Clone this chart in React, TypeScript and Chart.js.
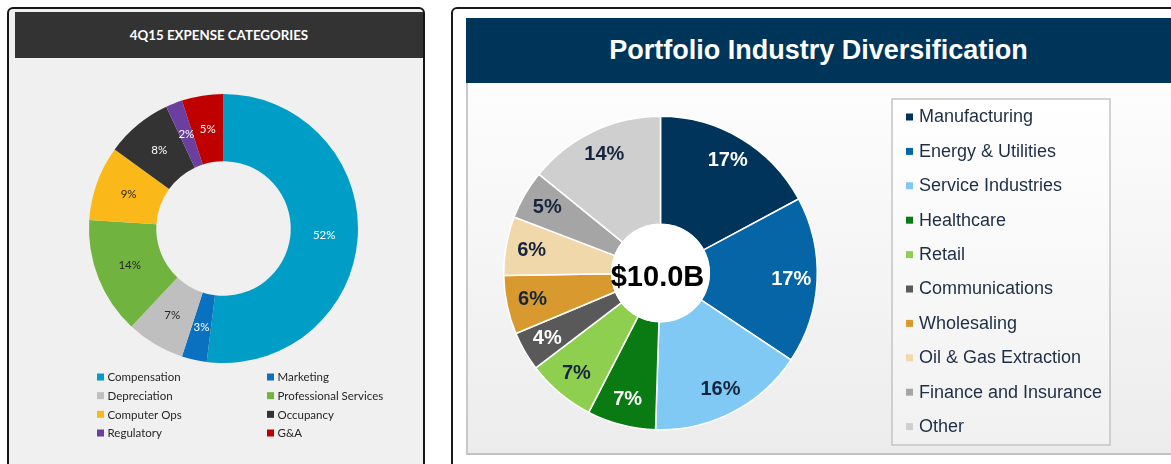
import React, { useEffect, useRef } from "react";
import { Chart, registerables } from "chart.js";
Chart.register(...registerables);

// ---- Left chart data ----
const expenseTitle = "4Q15 EXPENSE CATEGORIES";
const expenseCategories = [
  "Compensation",
  "Marketing",
  "Depreciation",
  "Professional Services",
  "Computer Ops",
  "Occupancy",
  "Regulatory",
  "G&A",
];
const expenseValues = [52, 3, 7, 14, 9, 8, 2, 5];
const expenseColors = ["#009ec6", "#0a70c0", "#bfbfbf", "#71b33f", "#fbb919", "#333333", "#6b3fa0", "#c00000"];
const expenseLabelColors = ["#ffffff", "#ffffff", "#262626", "#262626", "#262626", "#ffffff", "#ffffff", "#ffffff"];

// ---- Right chart data ----
const industryTitle = "Portfolio Industry Diversification";
const industryCategories = [
  "Manufacturing",
  "Energy & Utilities",
  "Service Industries",
  "Healthcare",
  "Retail",
  "Communications",
  "Wholesaling",
  "Oil & Gas Extraction",
  "Finance and Insurance",
  "Other",
];
const industryValues = [17, 17, 16, 7, 7, 4, 6, 6, 5, 14];
const industryColors = ["#00345a", "#0565a6", "#80c9f4", "#0a7b13", "#8fcf50", "#595959", "#d89a2f", "#f0d8ab", "#a5a5a5", "#cfcfcf"];
const industryLabelColors = ["#ffffff", "#ffffff", "#16253d", "#ffffff", "#16253d", "#ffffff", "#16253d", "#16253d", "#16253d", "#16253d"];
const industryTotal = "$10.0B";

function makeLabelPlugin(id: string, texts: string[], colors: string[], font: string, frac: number, center?: { text: string; font: string }) {
  return {
    id,
    afterDatasetsDraw(chart: any) {
      const ctx = chart.ctx;
      const meta = chart.getDatasetMeta(0);
      ctx.save();
      if (center && meta.data.length) {
        const a0: any = meta.data[0];
        ctx.beginPath();
        ctx.arc(a0.x, a0.y, a0.innerRadius + 1, 0, Math.PI * 2);
        ctx.fillStyle = "#ffffff";
        ctx.fill();
        ctx.font = center.font;
        ctx.fillStyle = "#000000";
        ctx.textAlign = "center";
        ctx.textBaseline = "middle";
        ctx.fillText(center.text, a0.x - 3, a0.y + 5);
      }
      ctx.font = font;
      ctx.textAlign = "center";
      ctx.textBaseline = "middle";
      meta.data.forEach((arc: any, i: number) => {
        const p = arc.getProps(["x", "y", "startAngle", "endAngle", "innerRadius", "outerRadius"], true);
        const mid = (p.startAngle + p.endAngle) / 2;
        const r = p.innerRadius + (p.outerRadius - p.innerRadius) * frac;
        ctx.fillStyle = colors[i];
        ctx.fillText(texts[i], p.x + Math.cos(mid) * r, p.y + Math.sin(mid) * r);
      });
      ctx.restore();
    },
  };
}

function makeLegendPlugin(
  id: string,
  labels: string[],
  colors: string[],
  cfg: {
    font: string;
    textColor: string;
    cols: number[];
    rowY0: number;
    rowH: number;
    perCol: number;
    box: number;
    textGap: number;
    rowMajor: boolean;
    frame?: { x: number; y: number; w: number; h: number };
  }
) {
  return {
    id,
    afterDraw(chart: any) {
      const ctx = chart.ctx;
      ctx.save();
      if (cfg.frame) {
        const f = cfg.frame;
        const g = ctx.createLinearGradient(0, f.y, 0, f.y + f.h);
        g.addColorStop(0, "#ffffff");
        g.addColorStop(1, "#f1f1f1");
        ctx.fillStyle = g;
        ctx.fillRect(f.x, f.y, f.w, f.h);
        ctx.strokeStyle = "#c4c4c4";
        ctx.lineWidth = 1.5;
        ctx.strokeRect(f.x, f.y, f.w, f.h);
      }
      ctx.font = cfg.font;
      ctx.textBaseline = "middle";
      ctx.textAlign = "left";
      labels.forEach((lab, i) => {
        let col: number, row: number;
        if (cfg.rowMajor) {
          col = i % cfg.cols.length;
          row = Math.floor(i / cfg.cols.length);
        } else {
          col = Math.floor(i / cfg.perCol);
          row = i % cfg.perCol;
        }
        const x = cfg.cols[col];
        const y = cfg.rowY0 + row * cfg.rowH;
        ctx.fillStyle = colors[i];
        ctx.fillRect(x, y - cfg.box / 2, cfg.box, cfg.box);
        ctx.fillStyle = cfg.textColor;
        ctx.fillText(lab, x + cfg.textGap, y + 0.5);
      });
      ctx.restore();
    },
  };
}

function ExpenseChart() {
  const ref = useRef<HTMLCanvasElement>(null);
  useEffect(() => {
    const c = new Chart(ref.current!, {
      type: "doughnut",
      data: {
        labels: expenseCategories,
        datasets: [
          {
            data: expenseValues,
            backgroundColor: expenseColors,
            borderWidth: 0,
            hoverOffset: 0,
          },
        ],
      },
      options: {
        animation: false,
        responsive: false,
        devicePixelRatio: 1,
        cutout: "50%",
        layout: { padding: { left: 79, right: 65, top: 34, bottom: 101 } },
        plugins: { legend: { display: false }, tooltip: { enabled: false } },
      },
      plugins: [
        makeLabelPlugin(
          "expLabels",
          expenseValues.map((v) => v + "%"),
          expenseLabelColors,
          "11.5px Lato",
          0.5
        ),
        makeLegendPlugin("expLegend", expenseCategories, expenseColors, {
          font: "11.5px Lato",
          textColor: "#262626",
          cols: [87, 257],
          rowY0: 317,
          rowH: 18.67,
          perCol: 4,
          box: 7,
          textGap: 10.5,
          rowMajor: true,
        }),
      ],
    } as any);
    return () => c.destroy();
  }, []);
  return <canvas ref={ref} width={413} height={404} style={{ position: "absolute", left: 10, top: 60 }} />;
}

function IndustryChart() {
  const ref = useRef<HTMLCanvasElement>(null);
  useEffect(() => {
    const c = new Chart(ref.current!, {
      type: "doughnut",
      data: {
        labels: industryCategories,
        datasets: [
          {
            data: industryValues,
            backgroundColor: industryColors,
            borderWidth: 1.5,
            borderColor: "#ffffff",
            hoverOffset: 0,
          },
        ],
      },
      options: {
        animation: false,
        responsive: false,
        devicePixelRatio: 1,
        cutout: "31%",
        layout: { padding: { left: 35, right: 353, top: 31, bottom: 23 } },
        plugins: { legend: { display: false }, tooltip: { enabled: false } },
      },
      plugins: [
        makeLabelPlugin(
          "indLabels",
          industryValues.map((v) => v + "%"),
          industryLabelColors,
          "bold 20px 'Liberation Sans'",
          0.76,
          { text: industryTotal, font: "bold 29px 'Liberation Sans'" }
        ),
        makeLegendPlugin("indLegend", industryCategories, industryColors, {
          font: "18px 'Liberation Sans'",
          textColor: "#1e2e45",
          cols: [438],
          rowY0: 33,
          rowH: 34.4,
          perCol: 10,
          box: 7,
          textGap: 13,
          rowMajor: false,
          frame: { x: 424, y: 15, w: 218, h: 346 },
        }),
      ],
    } as any);
    return () => c.destroy();
  }, []);
  return <canvas ref={ref} width={703} height={370} style={{ position: "absolute", left: 468, top: 84 }} />;
}

export default function App() {
  return (
    <div
      style={{
        position: "fixed",
        left: 0,
        top: 0,
        width: 1171,
        height: 464,
        overflow: "hidden",
        background: "#ffffff",
      }}
    >
      {/* Left panel */}
      <div
        style={{
          position: "absolute",
          left: 7,
          top: 7,
          width: 414,
          height: 480,
          border: "2px solid #151515",
          borderRadius: 6,
          background: "#f0f0f0",
        }}
      />
      <div
        style={{
          position: "absolute",
          left: 15,
          top: 12,
          width: 408,
          height: 46,
          background: "#333333",
          color: "#ffffff",
          fontFamily: "Lato",
          fontWeight: 700,
          fontSize: 13.3,
          display: "flex",
          alignItems: "center",
          justifyContent: "center",
        }}
      >
        {expenseTitle}
      </div>
      <ExpenseChart />

      {/* Right panel */}
      <div
        style={{
          position: "absolute",
          left: 451,
          top: 7,
          width: 740,
          height: 480,
          border: "2px solid #1a1a1a",
          borderRadius: 6,
          background: "#ffffff",
        }}
      />
      <div
        style={{
          position: "absolute",
          left: 466,
          top: 18,
          width: 705,
          height: 65,
          background: "#00355a",
          color: "#ffffff",
          fontFamily: "'Liberation Sans'",
          fontWeight: 700,
          fontSize: 27,
          display: "flex",
          alignItems: "center",
          justifyContent: "center",
        }}
      >
        {industryTitle}
      </div>
      <div
        style={{
          position: "absolute",
          left: 466,
          top: 83,
          width: 720,
          height: 370,
          borderLeft: "2px solid #c8c8c8",
          borderBottom: "2px solid #c2c2c2",
          background: "linear-gradient(#fdfdfd, #ececec)",
        }}
      />
      <IndustryChart />
    </div>
  );
}
